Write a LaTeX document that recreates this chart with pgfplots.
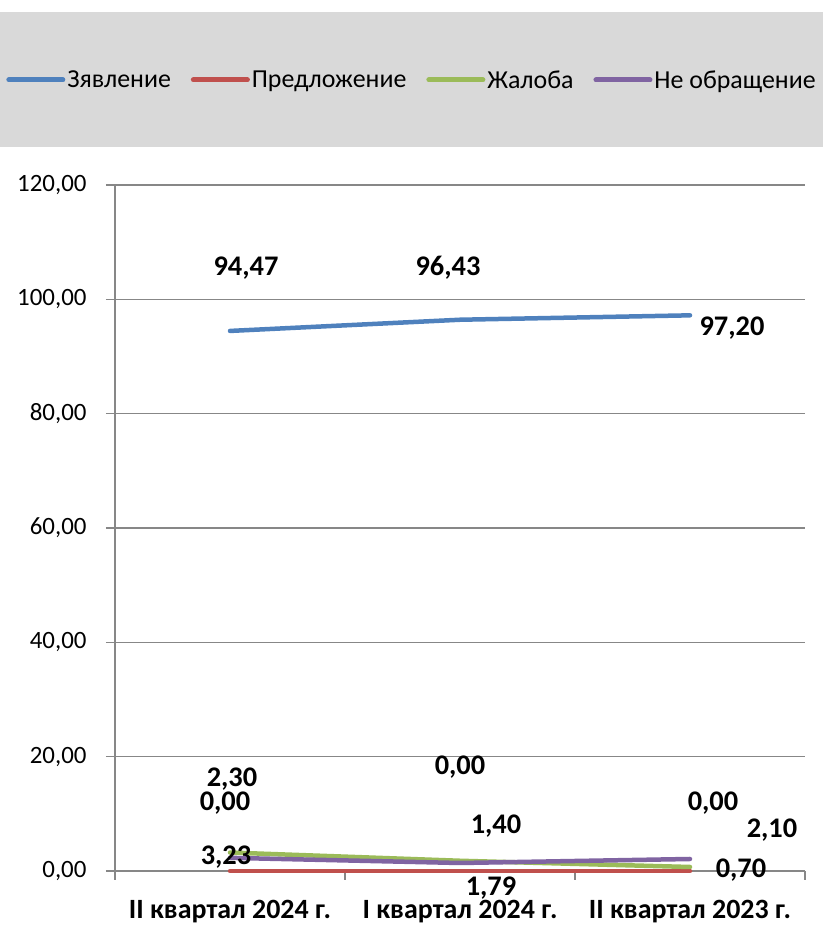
\documentclass[border=0pt]{standalone}
\usepackage{fontspec}
\setmainfont{Carlito}
\usepackage{pgfplots}
\pgfplotsset{compat=1.18}
\usepackage{pgfplotstable}

\definecolor{cBlue}{HTML}{4F81BD}
\definecolor{cRed}{HTML}{C0504D}
\definecolor{cGreen}{HTML}{9BBB59}
\definecolor{cPurple}{HTML}{8064A2}
\definecolor{axgray}{HTML}{878787}
\definecolor{legbg}{HTML}{D9D9D9}

\newcommand\chfont{\fontsize{26}{30}\selectfont}
\newcommand\tickfont{\fontsize{25}{29}\selectfont}
\newcommand\lblfont{\fontsize{28.5}{32}\selectfont\bfseries}
\newcommand\catfont{\fontsize{28}{32}\selectfont\bfseries}

% x = category index, dx/dy = label offset in bp
\pgfplotstableread{
x y dx dy
0 94.47 16 63
1 96.43 -12 52
2 97.20 42 -13
}\zayav
\pgfplotstableread{
x y dx dy
0 0.00 -5 68
1 0.00 0 104
2 0.00 23 68
}\predl
\pgfplotstableread{
x y dx dy
0 3.23 -4 -5
1 1.79 31 -27
2 0.70 51 -3
}\zhaloba
\pgfplotstableread{
x y dx dy
0 2.30 2 79
1 1.40 36 37
2 2.10 82 29
}\neobr

\pgfplotsset{
  ser/.style={line width=4.5bp, line cap=round,
    nodes near coords={\pgfmathprintnumber[fixed,fixed zerofill,precision=2,use comma]{\pgfplotspointmeta}},
    visualization depends on={\thisrow{dx}\as\dx},
    visualization depends on={\thisrow{dy}\as\dy},
    every node near coord/.append style={anchor=center, inner sep=0pt,
      font=\lblfont, text=black, xshift=\dx bp, yshift=\dy bp}},
}

\begin{document}
\begin{tikzpicture}
\fill[legbg] (0,780bp) rectangle (823bp,915bp);
\path[use as bounding box] (0,0) rectangle (823bp,927bp);
\begin{axis}[
    at={(115bp,56bp)}, anchor=south west,
    scale only axis, width=690bp, height=686bp,
    xmin=-0.5, xmax=2.5, ymin=0, ymax=120,
    axis lines*=left,
    axis line style={axgray, line width=1.3bp},
    clip=false,
    /pgf/number format/assume math mode=true,
    tick label style={font=\tickfont, text=black},
    tick align=outside,
    major tick length=9bp,
    tick style={axgray, line width=1.3bp},
    ytick={0,20,...,120},
    yticklabel={\pgfmathprintnumber[fixed,fixed zerofill,precision=2,use comma]{\tick}},
    yticklabel style={xshift=-16bp},
    ymajorgrids,
    grid style={axgray, line width=1.3bp},
    xtick={-0.5,0.5,1.5,2.5},
    xticklabels={},
    extra x ticks={0,1,2},
    extra x tick labels={II квартал 2024 г., I квартал 2024 г., II квартал 2023 г.},
    extra x tick style={tick style={draw=none},
      xticklabel style={font=\catfont, yshift=-17bp}},
    legend style={at={(axis description cs:0.4304,1.1531)}, anchor=center,
      draw=none, fill=none, font=\chfont, legend columns=4,
      /tikz/every even column/.append style={column sep=18bp}},
    legend image code/.code={\draw[#1, line width=5bp] (0bp,0bp) -- (54bp,0bp);},
]
\addplot[cBlue, ser] table[x=x, y=y] {\zayav};
\addlegendentry{Зявление}
\addplot[cRed, ser] table[x=x, y=y] {\predl};
\addlegendentry{Предложение}
\addplot[cGreen, ser] table[x=x, y=y] {\zhaloba};
\addlegendentry{Жалоба}
\addplot[cPurple, ser] table[x=x, y=y] {\neobr};
\addlegendentry{Не обращение}
\end{axis}
\end{tikzpicture}
\end{document}
